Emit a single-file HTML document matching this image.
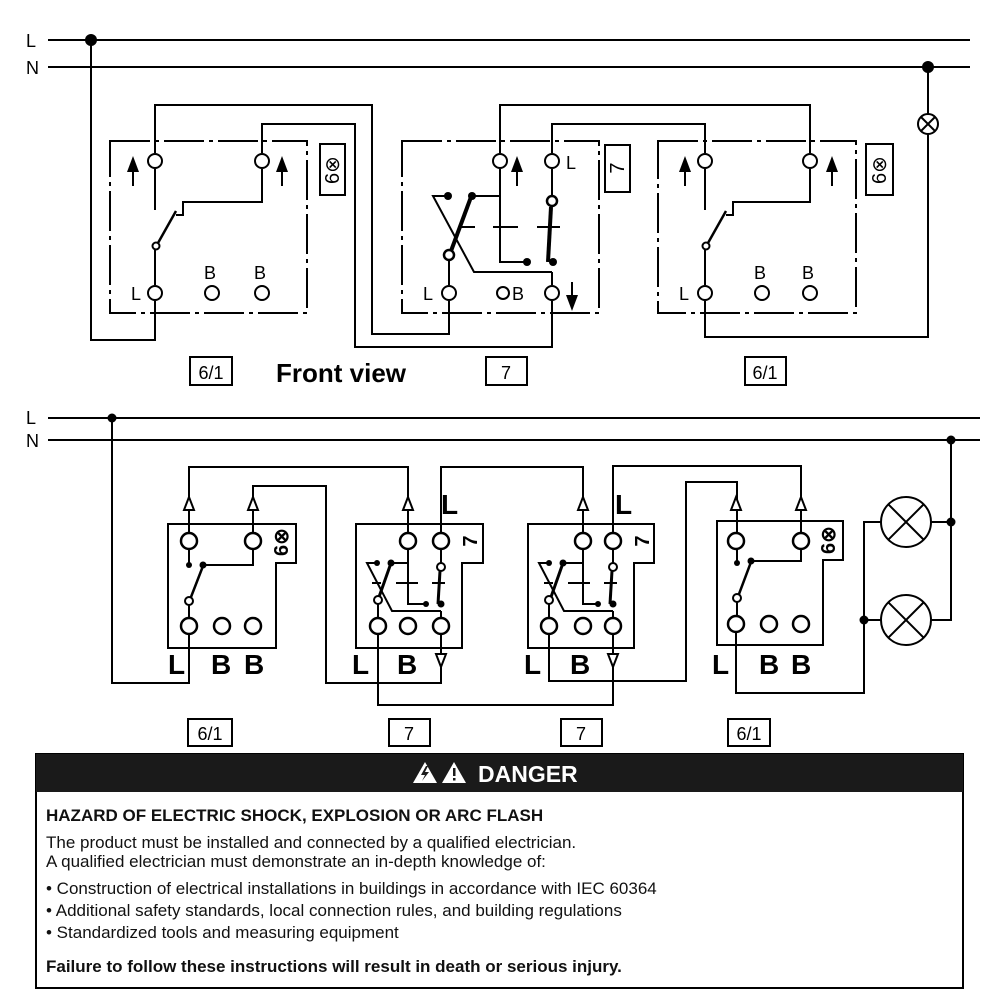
<!DOCTYPE html>
<html><head><meta charset="utf-8"><style>
html,body{margin:0;padding:0;background:#fff;}
svg{display:block;font-family:"Liberation Sans",Arial,sans-serif;}
</style></head><body>
<svg width="1000" height="1000" viewBox="0 0 1000 1000" xmlns="http://www.w3.org/2000/svg">
<g fill="none" stroke="#000" stroke-width="2">
<line x1="48" y1="40" x2="970" y2="40"/>
<line x1="48" y1="67" x2="970" y2="67"/>
<polyline points="91,40 91,340 155,340 155,301"/>
<g stroke-dasharray="40,5,4,5">
<rect x="110" y="141" width="197" height="172"/>
<rect x="402" y="141" width="197" height="172"/>
<rect x="658" y="141" width="198" height="172"/>
</g>
<polyline points="155,153 155,105 372,105 372,334 449,334 449,301"/>
<polyline points="262,153 262,124 355,124 355,347 552,347 552,301"/>
<polyline points="552,153 552,124 705,124 705,153"/>
<polyline points="500,153 500,105 810,105 810,153"/>
<polyline points="705,301 705,337 928,337 928,134"/>
<line x1="928" y1="114" x2="928" y2="67"/>
<circle cx="928" cy="124" r="10"/>
<line x1="921" y1="117" x2="935" y2="131"/><line x1="935" y1="117" x2="921" y2="131"/>
<line x1="155" y1="169" x2="155" y2="210"/>
<polyline points="262,169 262,202 183,202 183,215 176,215"/>
<line x1="155" y1="250" x2="155" y2="285"/>
<line x1="158" y1="243" x2="176" y2="211" stroke-width="2.5"/>
<circle cx="156" cy="246" r="3.5" fill="#fff"/>
<line x1="705" y1="169" x2="705" y2="210"/>
<polyline points="810,169 810,202 733,202 733,215 726,215"/>
<line x1="705" y1="250" x2="705" y2="285"/>
<line x1="708" y1="243" x2="726" y2="211" stroke-width="2.5"/>
<circle cx="706" cy="246" r="3.5" fill="#fff"/>
<polyline points="448,196 433,196 474,272 552,272"/>
<line x1="472" y1="196" x2="500" y2="196"/>
<polyline points="500,169 500,262 527,262"/>
<line x1="449" y1="261" x2="449" y2="285"/>
<line x1="552" y1="169" x2="552" y2="195"/>
<line x1="552" y1="272" x2="552" y2="285"/>
<line x1="451" y1="251" x2="471" y2="197" stroke-width="4"/>
<line x1="551" y1="207" x2="548" y2="262" stroke-width="4"/>
<line x1="460" y1="227" x2="475" y2="227"/><line x1="493" y1="227" x2="518" y2="227"/><line x1="537" y1="227" x2="560" y2="227"/>
<circle cx="449" cy="255" r="5" fill="#fff" stroke-width="2.5"/>
<circle cx="552" cy="201" r="5" fill="#fff" stroke-width="2.5"/>
<g fill="#fff">
<circle cx="155" cy="161" r="7"/><circle cx="262" cy="161" r="7"/>
<circle cx="155" cy="293" r="7"/><circle cx="212" cy="293" r="7"/><circle cx="262" cy="293" r="7"/>
<circle cx="500" cy="161" r="7"/><circle cx="552" cy="161" r="7"/>
<circle cx="449" cy="293" r="7"/><circle cx="503" cy="293" r="6"/><circle cx="552" cy="293" r="7"/>
<circle cx="705" cy="161" r="7"/><circle cx="810" cy="161" r="7"/>
<circle cx="705" cy="293" r="7"/><circle cx="762" cy="293" r="7"/><circle cx="810" cy="293" r="7"/>
</g>
<rect x="320" y="144" width="25" height="51"/>
<rect x="605" y="145" width="25" height="47"/>
<rect x="866" y="144" width="27" height="51"/>
<rect x="190" y="357" width="42" height="28"/>
<rect x="486" y="357" width="41" height="28"/>
<rect x="745" y="357" width="41" height="28"/>
<line x1="133" y1="170" x2="133" y2="186"/><line x1="282" y1="170" x2="282" y2="186"/>
<line x1="517" y1="170" x2="517" y2="186"/>
<line x1="685" y1="170" x2="685" y2="186"/><line x1="832" y1="170" x2="832" y2="186"/>
<line x1="572" y1="282" x2="572" y2="298"/>

<line x1="48" y1="418" x2="980" y2="418"/>
<line x1="48" y1="440" x2="980" y2="440"/>
<polyline points="112,418 112,683 189,683 189,634"/>
<path d="M168,524 H296 V563 H276 V648 H168 Z"/>
<path d="M356,524 H483 V563 H462 V648 H356 Z"/>
<path d="M528,524 H654 V563 H634 V648 H528 Z"/>
<path d="M717,521 H843 V560 H823 V645 H717 Z"/>
<polyline points="189,533 189,467 408,467 408,533"/>
<polyline points="253,533 253,486 326,486 326,683 441,683 441,634"/>
<polyline points="441,533 441,467 583,467 583,533"/>
<polyline points="613,533 613,466 801,466 801,533"/>
<polyline points="378,634 378,705 613,705 613,634"/>
<polyline points="549,634 549,681 686,681 686,482 737,482 737,533"/>
<polyline points="736,632 736,693 864,693 864,522 881,522"/>
<line x1="864" y1="620" x2="881" y2="620"/>
<polyline points="931,522 951,522"/>
<polyline points="931,620 951,620 951,440"/>
<circle cx="906" cy="522" r="25"/><circle cx="906" cy="620" r="25"/>
<line x1="888" y1="504" x2="924" y2="540"/><line x1="924" y1="504" x2="888" y2="540"/>
<line x1="888" y1="602" x2="924" y2="638"/><line x1="924" y1="602" x2="888" y2="638"/>
<line x1="189" y1="549" x2="189" y2="565"/>
<polyline points="203,565 253,565 253,549"/>
<line x1="189" y1="605" x2="189" y2="618"/>
<line x1="191" y1="597" x2="203" y2="566" stroke-width="2.5"/>
<circle cx="189" cy="601" r="4" fill="#fff"/>
<line x1="737" y1="549" x2="737" y2="563"/>
<polyline points="751,561 801,561 801,549"/>
<line x1="737" y1="602" x2="737" y2="616"/>
<line x1="739" y1="594" x2="751" y2="562" stroke-width="2.5"/>
<circle cx="737" cy="598" r="4" fill="#fff"/>
<g>
<polyline points="377,563 367,563 392,611 441,611"/>
<line x1="391" y1="563" x2="408" y2="563"/>
<polyline points="408,549 408,604 426,604"/>
<line x1="378" y1="604" x2="378" y2="618"/>
<line x1="441" y1="549" x2="441" y2="563"/>
<line x1="441" y1="611" x2="441" y2="618"/>
<line x1="379" y1="597" x2="391" y2="563" stroke-width="3"/>
<line x1="440" y1="571" x2="438" y2="604" stroke-width="3"/>
<line x1="372" y1="583" x2="381" y2="583"/><line x1="396" y1="583" x2="418" y2="583"/><line x1="432" y1="583" x2="445" y2="583"/>
<circle cx="378" cy="600" r="4" fill="#fff"/>
<circle cx="441" cy="567" r="4" fill="#fff"/>
</g>
<g transform="translate(172,0)">
<polyline points="377,563 367,563 392,611 441,611"/>
<line x1="391" y1="563" x2="411" y2="563"/>
<polyline points="411,549 411,604 426,604"/>
<line x1="377" y1="604" x2="377" y2="618"/>
<line x1="441" y1="549" x2="441" y2="563"/>
<line x1="441" y1="611" x2="441" y2="618"/>
<line x1="379" y1="597" x2="391" y2="563" stroke-width="3"/>
<line x1="440" y1="571" x2="438" y2="604" stroke-width="3"/>
<line x1="372" y1="583" x2="381" y2="583"/><line x1="396" y1="583" x2="418" y2="583"/><line x1="432" y1="583" x2="445" y2="583"/>
<circle cx="377" cy="600" r="4" fill="#fff"/>
<circle cx="441" cy="567" r="4" fill="#fff"/>
</g>
<g fill="#fff" stroke-width="2.5">
<circle cx="189" cy="541" r="8"/><circle cx="253" cy="541" r="8"/>
<circle cx="189" cy="626" r="8"/><circle cx="222" cy="626" r="8"/><circle cx="253" cy="626" r="8"/>
<circle cx="408" cy="541" r="8"/><circle cx="441" cy="541" r="8"/>
<circle cx="378" cy="626" r="8"/><circle cx="408" cy="626" r="8"/><circle cx="441" cy="626" r="8"/>
<circle cx="583" cy="541" r="8"/><circle cx="613" cy="541" r="8"/>
<circle cx="549" cy="626" r="8"/><circle cx="583" cy="626" r="8"/><circle cx="613" cy="626" r="8"/>
<circle cx="736" cy="541" r="8"/><circle cx="801" cy="541" r="8"/>
<circle cx="736" cy="624" r="8"/><circle cx="769" cy="624" r="8"/><circle cx="801" cy="624" r="8"/>
</g>
<g fill="#fff">
<polygon points="189,497 184,510 194,510"/>
<polygon points="253,497 248,510 258,510"/>
<polygon points="408,497 403,510 413,510"/>
<polygon points="583,497 578,510 588,510"/>
<polygon points="736,497 731,510 741,510"/>
<polygon points="801,497 796,510 806,510"/>
<polygon points="441,667 436,654 446,654"/>
<polygon points="613,667 608,654 618,654"/>
</g>
<rect x="188" y="719" width="44" height="27"/>
<rect x="389" y="719" width="41" height="27"/>
<rect x="561" y="719" width="41" height="27"/>
<rect x="728" y="719" width="42" height="27"/>
</g>

<g fill="#000">
<circle cx="91" cy="40" r="6"/><circle cx="928" cy="67" r="6"/>
<circle cx="112" cy="418" r="4.5"/><circle cx="951" cy="440" r="4.5"/>
<circle cx="951" cy="522" r="4.5"/><circle cx="864" cy="620" r="4.5"/>
<circle cx="448" cy="196" r="4"/><circle cx="472" cy="196" r="4"/>
<circle cx="527" cy="262" r="4"/><circle cx="553" cy="262" r="4"/>
<circle cx="189" cy="565" r="3"/><circle cx="203" cy="565" r="3.5"/>
<circle cx="737" cy="563" r="3"/><circle cx="751" cy="561" r="3.5"/>
<circle cx="377" cy="563" r="3"/><circle cx="391" cy="563" r="3.5"/>
<circle cx="426" cy="604" r="3"/><circle cx="441" cy="604" r="3.5"/>
<circle cx="549" cy="563" r="3"/><circle cx="563" cy="563" r="3.5"/>
<circle cx="598" cy="604" r="3"/><circle cx="613" cy="604" r="3.5"/>
<polygon points="133,156 127,172 139,172"/>
<polygon points="282,156 276,172 288,172"/>
<polygon points="517,156 511,172 523,172"/>
<polygon points="685,156 679,172 691,172"/>
<polygon points="832,156 826,172 838,172"/>
<polygon points="572,311 566,295 578,295"/>
</g>

<g font-size="18" fill="#000">
<text x="26" y="47">L</text>
<text x="26" y="74">N</text>
<text x="131" y="300">L</text>
<text x="204" y="279">B</text><text x="254" y="279">B</text>
<text x="423" y="300">L</text>
<text x="512" y="300">B</text>
<text x="566" y="169">L</text>
<text x="679" y="300">L</text>
<text x="754" y="279">B</text><text x="802" y="279">B</text>
<text x="26" y="424">L</text>
<text x="26" y="447">N</text>
<text x="211" y="379" text-anchor="middle">6/1</text>
<text x="506" y="379" text-anchor="middle">7</text>
<text x="765" y="379" text-anchor="middle">6/1</text>
<text x="210" y="740" text-anchor="middle">6/1</text>
<text x="409" y="740" text-anchor="middle">7</text>
<text x="581" y="740" text-anchor="middle">7</text>
<text x="749" y="740" text-anchor="middle">6/1</text>
</g>
<text x="276" y="382" font-size="26" font-weight="bold">Front view</text>
<g font-size="20">
<text transform="translate(339,170) rotate(-90)" text-anchor="middle">6⊗</text>
<text transform="translate(624,168) rotate(-90)" text-anchor="middle">7</text>
<text transform="translate(886,170) rotate(-90)" text-anchor="middle">6⊗</text>
</g>
<g font-size="20" font-weight="bold">
<text transform="translate(288,542) rotate(-90)" text-anchor="middle">6⊗</text>
<text transform="translate(477,541) rotate(-90)" text-anchor="middle">7</text>
<text transform="translate(649,541) rotate(-90)" text-anchor="middle">7</text>
<text transform="translate(835,540) rotate(-90)" text-anchor="middle">6⊗</text>
</g>
<g font-size="28" font-weight="bold">
<text x="168" y="674">L</text><text x="211" y="674">B</text><text x="244" y="674">B</text>
<text x="352" y="674">L</text><text x="397" y="674">B</text>
<text x="524" y="674">L</text><text x="570" y="674">B</text>
<text x="712" y="674">L</text><text x="759" y="674">B</text><text x="791" y="674">B</text>
<text x="441" y="514">L</text>
<text x="615" y="514">L</text>
</g>

<rect x="36" y="754" width="927" height="234" fill="#fff" stroke="#000" stroke-width="2"/>
<rect x="36" y="754" width="927" height="38" fill="#1a1a1a"/>
<g fill="#fff">
<polygon points="413,783 425,762 437,783"/>
<polygon points="442,783 454,762 466,783"/>
</g>
<polygon points="426,766 421,775 425,775 422,781 429,772 425,772 428,766" fill="#1a1a1a"/>
<rect x="453" y="768" width="2.5" height="8" fill="#1a1a1a"/><rect x="453" y="778" width="2.5" height="2.5" fill="#1a1a1a"/>
<text x="478" y="782" font-size="23" font-weight="bold" fill="#fff">DANGER</text>
<g font-size="17" fill="#111">
<text x="46" y="821" font-weight="bold">HAZARD OF ELECTRIC SHOCK, EXPLOSION OR ARC FLASH</text>
<text x="46" y="848">The product must be installed and connected by a qualified electrician.</text>
<text x="46" y="867">A qualified electrician must demonstrate an in-depth knowledge of:</text>
<text x="46" y="894">• Construction of electrical installations in buildings in accordance with IEC 60364</text>
<text x="46" y="916">• Additional safety standards, local connection rules, and building regulations</text>
<text x="46" y="938">• Standardized tools and measuring equipment</text>
<text x="46" y="972" font-weight="bold">Failure to follow these instructions will result in death or serious injury.</text>
</g>
</svg>
</body></html>
